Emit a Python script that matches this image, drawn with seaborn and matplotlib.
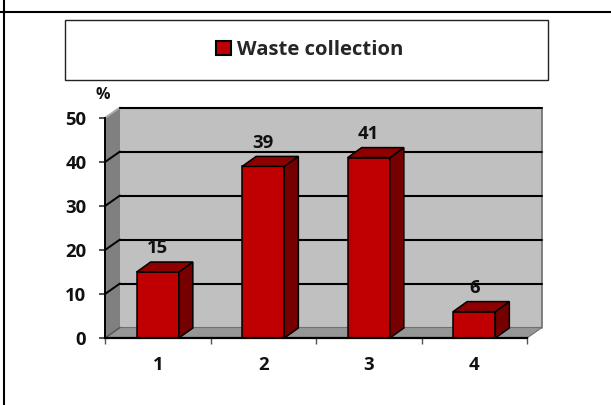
import matplotlib
matplotlib.use("Agg")
import matplotlib.pyplot as plt
from matplotlib.patches import Polygon, Rectangle, Patch
from matplotlib.lines import Line2D
import seaborn as sns
import pandas as pd

# ---- data ----
categories = ["1", "2", "3", "4"]
values = [15, 39, 41, 6]
series_name = "Waste collection"
y_ticks = [0, 10, 20, 30, 40, 50]
y_unit = "%"

sns.set_theme(style="white")
plt.rcParams["font.family"] = ["Open Sans", "DejaVu Sans"]
plt.rcParams["font.weight"] = "bold"

FRONT = "#C00000"
TOP = "#8E0000"
SIDE = "#760000"
WALL = "#C0C0C0"
SIDE_WALL = "#808080"
FLOOR = "#969696"
TXT = "#111111"
FS = 13.3

W, H, DPI = 611, 405, 100
fig = plt.figure(figsize=(W / DPI, H / DPI), dpi=DPI)
fig.patch.set_facecolor("white")

# plot area in pixel units
left_px, right_px, top_px, bottom_px = 105, 527, 118, 338
ax = fig.add_axes([left_px / W, 1 - bottom_px / H,
                   (right_px - left_px) / W, (bottom_px - top_px) / H])
ax.set_facecolor("none")

df = pd.DataFrame({"category": categories, "value": values})
sns.barplot(data=df, x="category", y="value", color=FRONT, saturation=1,
            width=0.4, edgecolor="black", linewidth=1.1, ax=ax, zorder=3)

ax.set_xlim(-0.5, len(categories) - 0.5)
ax.set_ylim(y_ticks[0], y_ticks[-1])

# depth offsets (pixels) converted to data units
x_per_px = (len(categories)) / (right_px - left_px)
y_per_px = (y_ticks[-1] - y_ticks[0]) / (bottom_px - top_px)
wdx, wdy = 15 * x_per_px, 10.5 * y_per_px   # walls
bdx, bdy = 14 * x_per_px, 10 * y_per_px     # bars

x0, x1 = -0.5, len(categories) - 0.5
ymax = y_ticks[-1]

# back wall, side wall, floor
ax.add_patch(Rectangle((x0 + wdx, wdy), x1 - x0, ymax, facecolor=WALL,
                       edgecolor="none", zorder=0.2, clip_on=False))
ax.add_patch(Polygon([(x0, 0), (x0, ymax), (x0 + wdx, ymax + wdy), (x0 + wdx, wdy)],
                     closed=True, facecolor=SIDE_WALL, edgecolor="none",
                     zorder=0.2, clip_on=False))
ax.add_patch(Polygon([(x0, 0), (x1, 0), (x1 + wdx, wdy), (x0 + wdx, wdy)],
                     closed=True, facecolor=FLOOR, edgecolor="#707070",
                     linewidth=0.8, zorder=0.3, clip_on=False))
ax.add_line(Line2D([x1 + wdx, x1 + wdx], [wdy, ymax + wdy], color="#6e6e6e",
                   linewidth=1.2, zorder=0.35, clip_on=False))

# gridlines on the walls
for yv in y_ticks[1:]:
    diag_color = "black" if yv < ymax else "#a8a8a8"
    ax.add_line(Line2D([x0, x0 + wdx], [yv, yv + wdy], color=diag_color,
                       linewidth=1.4, zorder=0.4, clip_on=False))
    ax.add_line(Line2D([x0 + wdx, x1 + wdx], [yv + wdy, yv + wdy], color="black",
                       linewidth=1.5, zorder=0.4, clip_on=False))
ax.add_line(Line2D([x0, x0 + wdx], [0, wdy], color="#555555",
                   linewidth=1.0, zorder=0.4, clip_on=False))

# top and side faces of every bar, from the bars seaborn drew
for patch, val in zip(ax.patches[:len(values)], values):
    bx = patch.get_x()
    bw = patch.get_width()
    bh = patch.get_height()
    top = Polygon([(bx, bh), (bx + bw, bh), (bx + bw + bdx, bh + bdy), (bx + bdx, bh + bdy)],
                  closed=True, facecolor=TOP, edgecolor="black", linewidth=1.1,
                  zorder=3.5, clip_on=False)
    side = Polygon([(bx + bw, 0), (bx + bw, bh), (bx + bw + bdx, bh + bdy), (bx + bw + bdx, bdy)],
                   closed=True, facecolor=SIDE, edgecolor="black", linewidth=1.1,
                   zorder=3.4, clip_on=False)
    ax.add_patch(side)
    ax.add_patch(top)
    patch.set_clip_on(False)
    ax.annotate(f"{val:g}", xy=(bx + bw / 2, bh), xytext=(0, 17),
                textcoords="offset points", ha="center", va="center",
                fontsize=FS, fontweight="bold", color=TXT, zorder=5)

# axes, ticks, labels
for s in ["top", "right"]:
    ax.spines[s].set_visible(False)
ax.spines["left"].set_color("black")
ax.spines["left"].set_linewidth(1.4)
ax.spines["bottom"].set_color("black")
ax.spines["bottom"].set_linewidth(1.6)
ax.spines["left"].set_zorder(4)
ax.spines["bottom"].set_zorder(4)

ax.set_yticks(y_ticks)
ax.set_yticklabels([str(t) for t in y_ticks], fontsize=FS, fontweight="bold",
                   color=TXT)
ax.tick_params(axis="y", which="major", length=4.5, width=1.2, color="#333333",
               pad=9, left=True)
ax.set_xticks(range(len(categories)))
ax.set_xticklabels(categories, fontsize=FS, fontweight="bold", color=TXT)
ax.tick_params(axis="x", which="major", length=0, pad=13)
ax.set_xticks([i - 0.5 for i in range(len(categories) + 1)], minor=True)
ax.tick_params(axis="x", which="minor", length=4, width=1.0, color="#555555",
               bottom=True)
ax.set_xlabel("")
ax.set_ylabel("")

fig.text(103 / W, 1 - 95 / H, y_unit, ha="center", va="center",
         fontsize=11.5, fontweight="bold", color=TXT)

# legend box
fig.add_artist(Rectangle((65 / W, 1 - 80 / H), (548 - 65) / W, 60 / H,
                         transform=fig.transFigure, facecolor="white",
                         edgecolor="#222222", linewidth=1.0, zorder=1))
handle = Patch(facecolor=FRONT, edgecolor="black", linewidth=1.5)
fig.legend([handle], [series_name], loc="center",
           bbox_to_anchor=(310 / W, 1 - 50 / H), frameon=False,
           handlelength=0.75, handleheight=0.75, handletextpad=0.3,
           prop={"size": 14.6, "weight": "bold"})

# table borders
fig.add_artist(Line2D([4 / W, 4 / W], [0, 1], transform=fig.transFigure,
                      color="black", linewidth=1.5))
fig.add_artist(Line2D([0, 1], [1 - 12 / H, 1 - 12 / H], transform=fig.transFigure,
                      color="black", linewidth=1.5))

fig.savefig("out.png", dpi=DPI)
